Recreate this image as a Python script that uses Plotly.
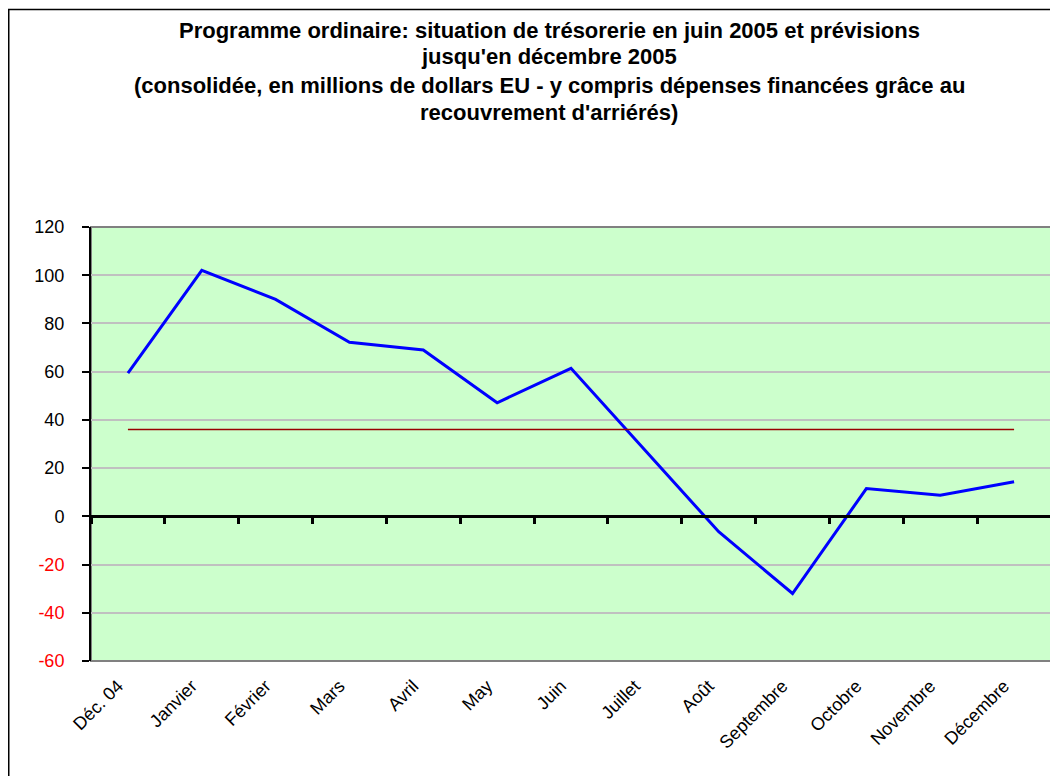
import plotly.graph_objects as go

categories = ["Déc. 04", "Janvier", "Février", "Mars", "Avril", "May", "Juin",
              "Juillet", "Août", "Septembre", "Octobre", "Novembre", "Décembre"]
cash_position = [59.4, 102.0, 90.0, 72.2, 69.0, 47.1, 61.4, 27.5, -6.4, -32.0, 11.5, 8.8, 14.3]
reference_level = [36, 36, 36, 36, 36, 36, 36, 36, 36, 36, 36, 36, 36]
y_tick_values = [-60, -40, -20, 0, 20, 40, 60, 80, 100, 120]
title_lines = [
    "Programme ordinaire: situation de trésorerie en juin 2005 et prévisions",
    "jusqu'en décembre 2005",
    "(consolidée, en millions de dollars EU - y compris dépenses financées grâce au",
    "recouvrement d'arriérés)",
]

FONT = "Liberation Sans, Arial, sans-serif"
# page has an 8px body margin, so the figure is sized to the remaining window
W, H = 1050, 768
ML, MR, MT, MB = 83, 7, 219, 115
PW, PH = W - ML - MR, H - MT - MB
YMIN, YMAX = -60, 120


def px_to_paper_x(px):
    return (px - ML) / PW


def px_to_paper_y(py):
    return (H - MB - py) / PH


y_tick_text = [
    f'<span style="color:red">{v}</span>' if v < 0 else str(v) for v in y_tick_values
]

fig = go.Figure()
fig.add_trace(go.Scatter(
    x=categories, y=reference_level, mode="lines",
    line=dict(color="#990000", width=1.5), xaxis="x2", yaxis="y",
    hoverinfo="skip", showlegend=False,
))
fig.add_trace(go.Scatter(
    x=categories, y=cash_position, mode="lines",
    line=dict(color="#0000FF", width=3), showlegend=False,
))

zero_pos = (0 - YMIN) / (YMAX - YMIN)

fig.update_layout(
    width=W, height=H,
    margin=dict(l=ML, r=MR, t=MT, b=MB, pad=0),
    paper_bgcolor="white",
    plot_bgcolor="#CCFFCC",
    font=dict(family=FONT, size=18, color="black"),
    showlegend=False,
    xaxis=dict(
        type="category", categoryorder="array", categoryarray=categories,
        range=[-0.5, len(categories) - 0.5],
        showgrid=False, zeroline=False, showline=False,
        ticks="", tickangle=-45, ticklabelstandoff=10, ticklabelshift=-10,
        tickfont=dict(family=FONT, size=18, color="black"),
    ),
    xaxis2=dict(
        type="category", categoryorder="array", categoryarray=categories,
        overlaying="x", matches="x", anchor="free", position=zero_pos,
        range=[-0.5, len(categories) - 0.5],
        showgrid=False, zeroline=False, showticklabels=False,
        showline=True, linecolor="black", linewidth=3,
        ticks="outside", tickson="boundaries", ticklen=6, tickwidth=3, tickcolor="black",
    ),
    yaxis=dict(
        range=[YMIN, YMAX], tickvals=y_tick_values, ticktext=y_tick_text,
        showgrid=True, gridcolor="#C0C0C0", gridwidth=1.5,
        zeroline=False, showline=True, linecolor="black", linewidth=2,
        ticks="outside", ticklen=7, tickcolor="black", tickwidth=1.5,
        ticklabelstandoff=14,
        tickfont=dict(family=FONT, size=18, color="black"),
    ),
)

# plot-area border (grey) and outer chart frame (black)
fig.add_shape(type="rect", xref="paper", yref="paper", x0=0, x1=1, y0=0, y1=1,
              line=dict(color="#808080", width=2), fillcolor="rgba(0,0,0,0)", layer="below")
fig.add_shape(type="rect", xref="paper", yref="paper",
              x0=px_to_paper_x(0.75), x1=px_to_paper_x(W + 20),
              y0=px_to_paper_y(H + 20), y1=px_to_paper_y(1.5),
              line=dict(color="black", width=1.5), fillcolor="rgba(0,0,0,0)")

title_centers = [22, 48, 78, 105]
for line, cy in zip(title_lines, title_centers):
    fig.add_annotation(
        text=f"<b>{line}</b>", xref="paper", yref="paper",
        x=px_to_paper_x(541), y=px_to_paper_y(cy),
        xanchor="center", yanchor="middle", showarrow=False,
        font=dict(family=FONT, size=22, color="black"),
    )

fig.write_html("out.html")
